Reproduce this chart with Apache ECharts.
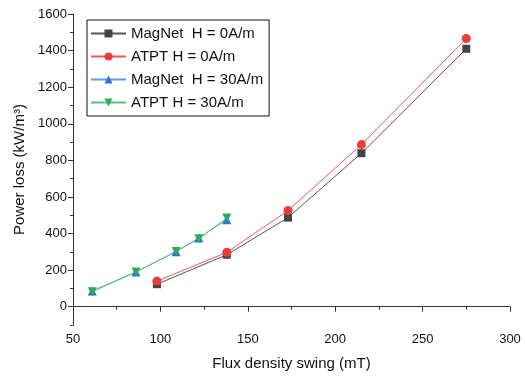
<!DOCTYPE html>
<html>
<head>
<meta charset="utf-8">
<script src="https://cdn.jsdelivr.net/npm/echarts@6/dist/echarts.min.js"></script>
<style>
  html, body { margin: 0; padding: 0; background: #fff; }
  #chart { width: 525px; height: 376px; }
</style>
</head>
<body>
<div id="chart"></div>
<script>
// flux density swing (mT) and power loss (kW/m3)
const xH0 = [98, 138, 173, 215, 275];
const magnetH0 = [123, 284, 487, 839, 1410];
const atptH0 = [140, 297, 526, 886, 1466];

const xH30 = [61, 86, 109, 122, 138];
const magnetH30 = [86, 190, 301, 376, 476];
const atptH30 = [82, 190, 302, 372, 485];

const seriesNames = [
  "MagNet  H = 0A/m",
  "ATPT H = 0A/m",
  "MagNet  H = 30A/m",
  "ATPT H = 30A/m",
];

const yLabels = [0, 200, 400, 600, 800, 1000, 1200, 1400, 1600];
const yMinor = [-100, 100, 300, 500, 700, 900, 1100, 1300, 1500];

const axisColor = "#333";
const font = "Liberation Sans, Arial, sans-serif";

function pairs(xs, ys) {
  return xs.map((x, i) => [x, ys[i]]);
}

function lineSeries(name, data, color, lineColor, symbol, size) {
  return {
    name,
    type: "line",
    data,
    symbol,
    symbolSize: size,
    color,
    lineStyle: { color: lineColor, width: 1 },
    itemStyle: { color },
    emphasis: { disabled: true },
  };
}

const chart = echarts.init(document.getElementById("chart"), null, { renderer: "canvas" });

chart.setOption({
  animation: false,
  grid: { left: 73, right: 15, top: 14, bottom: 45 },
  legend: {
    orient: "vertical",
    left: 87,
    top: 20,
    padding: [6, 6, 6, 3],
    itemGap: 8,
    itemWidth: 35,
    itemHeight: 10,
    borderColor: "#111",
    borderWidth: 1,
    borderRadius: 0,
    textStyle: { fontFamily: font, fontSize: 15, color: "#111" },
    data: seriesNames,
  },
  xAxis: {
    type: "value",
    min: 50,
    max: 300,
    interval: 50,
    name: "Flux density swing (mT)",
    nameLocation: "middle",
    nameGap: 31,
    nameTextStyle: { fontFamily: font, fontSize: 15, color: "#111" },
    axisLine: { show: true, lineStyle: { color: axisColor, width: 1 } },
    axisTick: { show: true, length: 5, lineStyle: { color: axisColor } },
    minorTick: { show: true, splitNumber: 2, length: 3, lineStyle: { color: axisColor } },
    axisLabel: { fontFamily: font, fontSize: 13, color: "#111", margin: 8 },
    splitLine: { show: false },
  },
  yAxis: [
    {
      type: "value",
      min: -100,
      max: 1600,
      name: "Power loss (kW/m\u00b3)",
      nameLocation: "middle",
      nameGap: 42,
      nameTextStyle: { fontFamily: font, fontSize: 15, color: "#111" },
      axisLine: { show: true, lineStyle: { color: axisColor, width: 1 } },
      axisTick: { show: true, length: 5, customValues: yLabels, lineStyle: { color: axisColor } },
      axisLabel: {
        fontFamily: font,
        fontSize: 13,
        color: "#111",
        margin: 6,
        customValues: yLabels,
        formatter: (v) => String(v),
      },
      splitLine: { show: false },
    },
    {
      type: "value",
      position: "left",
      min: -100,
      max: 1600,
      axisLine: { show: false },
      axisTick: { show: true, length: 3, customValues: yMinor, lineStyle: { color: axisColor } },
      axisLabel: { show: false },
      splitLine: { show: false },
    },
  ],
  series: [
    lineSeries(seriesNames[0], pairs(xH0, magnetH0), "#444", "#555", "rect", 8),
    lineSeries(seriesNames[1], pairs(xH0, atptH0), "#f23a3a", "#f25555", "circle", 9),
    lineSeries(seriesNames[2], pairs(xH30, magnetH30), "#2f6fd8", "#5b9be8", "triangle", 9),
    lineSeries(seriesNames[3], pairs(xH30, atptH30), "#2faa5a", "#55c07f", "path://M0,0 L10,0 L5,9 Z", 9),
  ],
});
</script>
</body>
</html>
